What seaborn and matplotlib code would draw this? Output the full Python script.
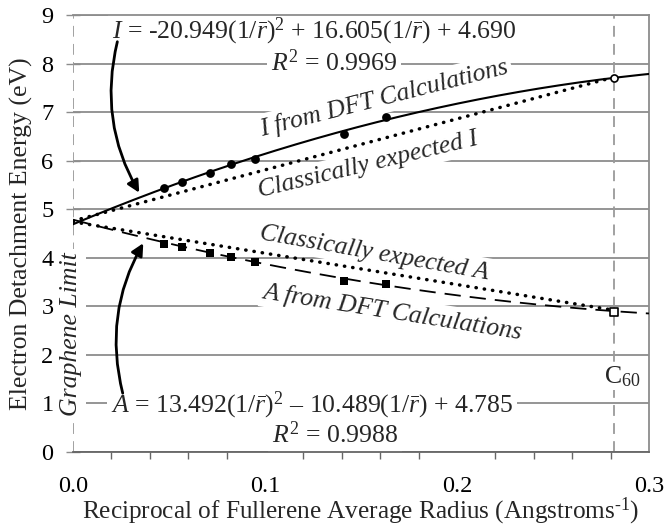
import numpy as np
import pandas as pd
import matplotlib
matplotlib.use("Agg")
import matplotlib.pyplot as plt
import seaborn as sns

# ---------------- data ----------------
inv_r = [0.0474, 0.0569, 0.0714, 0.0821, 0.0948, 0.1413, 0.1630]
I_dft = [5.43, 5.56, 5.75, 5.93, 6.04, 6.54, 6.90]
A_dft = [4.29, 4.22, 4.09, 4.02, 3.91, 3.52, 3.45]

c60_x = [0.2818]
c60_I = [7.70]
c60_A = [2.89]

# quadratic trendline coefficients as printed on the chart (a, b, c)
I_coef = [-20.949, 16.605, 4.690]
A_coef = [13.492, -10.489, 4.785]
I_r2 = "0.9969"
A_r2 = "0.9988"

# classically expected lines (end points)
class_x = [0.0, 0.2818]
class_I = [4.76, 7.72]
class_A = [4.74, 2.92]

x_ticks = [0.0, 0.1, 0.2, 0.3]
x_tick_labels = ["0.0", "0.1", "0.2", "0.3"]
y_ticks = list(range(0, 10))

# ---------------- style ----------------
sns.set_style("white")
plt.rcParams["font.family"] = ["Liberation Serif", "DejaVu Serif"]
plt.rcParams["mathtext.fontset"] = "custom"
plt.rcParams["mathtext.rm"] = "Liberation Serif"
plt.rcParams["mathtext.it"] = "Liberation Serif:italic"
plt.rcParams["mathtext.bf"] = "Liberation Serif:bold"

FS = 18.5
TFS = 17.5
GRID = "#8c8c8c"

fig = plt.figure(figsize=(6.65, 5.29), dpi=100)
ax = fig.add_axes([73 / 665, 1 - 452 / 529, (649 - 73) / 665, (452 - 15) / 529])
ax.set_axisbelow(True)

# trendlines from the printed equations
xf = np.linspace(0, 0.3, 200)
fit_df = pd.DataFrame({
    "x": xf,
    "I": np.polyval(I_coef, xf),
    "A": np.polyval(A_coef, xf),
})
sns.lineplot(data=fit_df, x="x", y="I", ax=ax, color="black", lw=1.5, zorder=3)
sns.lineplot(data=fit_df, x="x", y="A", ax=ax, color="black", lw=1.3, zorder=3)
ax.lines[-1].set_dashes([9, 5])

cls_df = pd.DataFrame({"x": class_x, "I": class_I, "A": class_A})
for col in ["I", "A"]:
    sns.lineplot(data=cls_df, x="x", y=col, ax=ax, color="black", lw=2.5, zorder=3)
    ax.lines[-1].set_dashes([0.1, 2.3])
    ax.lines[-1].set_dash_capstyle("round")

pts = pd.DataFrame({"x": inv_r, "I": I_dft, "A": A_dft})
sns.scatterplot(data=pts, x="x", y="I", ax=ax, marker="o", s=40, color="black",
                edgecolor="black", linewidth=0, zorder=4)
sns.scatterplot(data=pts, x="x", y="A", ax=ax, marker="s", s=38, color="black",
                edgecolor="black", linewidth=0, zorder=4)
c60 = pd.DataFrame({"x": c60_x, "I": c60_I, "A": c60_A})
sns.scatterplot(data=c60, x="x", y="I", ax=ax, marker="o", s=26, color="white",
                edgecolor="black", linewidth=1.2, zorder=4)
sns.scatterplot(data=c60, x="x", y="A", ax=ax, marker="s", s=26, color="white",
                edgecolor="black", linewidth=1.2, zorder=4)

# vertical reference lines
for xv in [0.0, c60_x[0]]:
    ax.axvline(xv, color="#9a9a9a", lw=1.3, dashes=[6, 4], zorder=0.8)

# axes
ax.set_xlim(0, 0.3)
ax.set_ylim(0, 9)
ax.set_xticks(x_ticks)
ax.set_xticklabels(x_tick_labels)
ax.set_xticks(np.arange(0.02, 0.3, 0.02), minor=True)
ax.set_yticks(y_ticks)
ax.yaxis.grid(True, color=GRID, lw=1.3, zorder=0.5)
ax.xaxis.grid(False)
ax.tick_params(axis="both", labelsize=TFS, colors="black")
ax.tick_params(axis="x", which="major", direction="inout", length=10, width=1.1,
               color="#666666", pad=12)
ax.tick_params(axis="x", which="minor", direction="out", length=5, width=1.0,
               color="#666666", bottom=True)
ax.tick_params(axis="y", which="major", direction="inout", length=10, width=1.0,
               color=GRID, left=True, pad=9)
ax.spines["left"].set_visible(False)
ax.spines["bottom"].set_color("#666666")
ax.spines["bottom"].set_linewidth(1.3)
for s in ["top", "right"]:
    ax.spines[s].set_color(GRID)
    ax.spines[s].set_linewidth(1.3)

ax.set_xlabel(r"Reciprocal of Fullerene Average Radius (Angstroms$^{\text{-1}}$)",
              fontsize=18.2, va="bottom")
ax.xaxis.set_label_coords(0.5, -0.171)
ax.set_ylabel("Electron Detachment Energy (eV)", fontsize=FS, labelpad=6)

box = dict(facecolor="white", edgecolor="none", pad=2.5)
rb = r"($\mathit{1/}\bar{r}$)"
I_eq = (r"$I$ = " + f"{I_coef[0]:.3f}" + rb + r"$^2$ + " + f"{I_coef[1]:.3f}" + rb
        + f" + {I_coef[2]:.3f}")
A_eq = (r"$A$ = " + f"{A_coef[0]:.3f}" + rb + r"$^2$ " + "\u2013 "
        + f"{abs(A_coef[1]):.3f}" + rb + f" + {A_coef[2]:.3f}")

ax.text(0.1255, 8.67, I_eq, fontsize=FS, ha="center", va="center", zorder=1, bbox=box)
ax.text(0.136, 8.02, r"$R^2$ = " + I_r2, fontsize=FS, ha="center", va="center",
        zorder=1, bbox=box)
ax.text(0.1245, 0.97, A_eq, fontsize=FS, ha="center", va="center", zorder=1, bbox=box)
ax.text(0.1365, 0.35, r"$R^2$ = " + A_r2, fontsize=FS, ha="center", va="center",
        zorder=1, bbox=box)

ax.text(0.162, 7.29, "I from DFT Calculations", fontsize=FS, style="italic",
        rotation=14.3, ha="center", va="center", rotation_mode="anchor", zorder=1, bbox=box)
ax.text(0.1536, 5.91, "Classically expected I", fontsize=FS, style="italic",
        rotation=13.5, ha="center", va="center", rotation_mode="anchor", zorder=1, bbox=box)
ax.text(0.157, 4.10, "Classically expected A", fontsize=FS, style="italic",
        rotation=-10, ha="center", va="center", rotation_mode="anchor", zorder=1, bbox=box)
ax.text(0.1667, 2.88, "A from DFT Calculations", fontsize=FS, style="italic",
        rotation=-9, ha="center", va="center", rotation_mode="anchor", zorder=1, bbox=box)
ax.text(-0.001, 2.43, "Graphene Limit", fontsize=FS, style="italic",
        rotation=90, ha="center", va="center", zorder=1, bbox=box)
ax.text(0.286, 1.55, r"C$_{60}$", fontsize=FS, ha="center", va="center", zorder=1,
        bbox=dict(facecolor="white", edgecolor="none", pad=0.5))

# curved arrows from the equations
ax.annotate("", xy=(0.0345, 5.34), xytext=(0.0231, 8.45),
            arrowprops=dict(arrowstyle="-|>", connectionstyle="arc3,rad=0.2",
                            lw=2, color="black", mutation_scale=18, shrinkA=0, shrinkB=0),
            zorder=5)
ax.annotate("", xy=(0.0366, 4.30), xytext=(0.0259, 1.21),
            arrowprops=dict(arrowstyle="-|>", connectionstyle="arc3,rad=-0.2",
                            lw=2, color="black", mutation_scale=18, shrinkA=0, shrinkB=0),
            zorder=5)

fig.savefig("out.png", dpi=100)
